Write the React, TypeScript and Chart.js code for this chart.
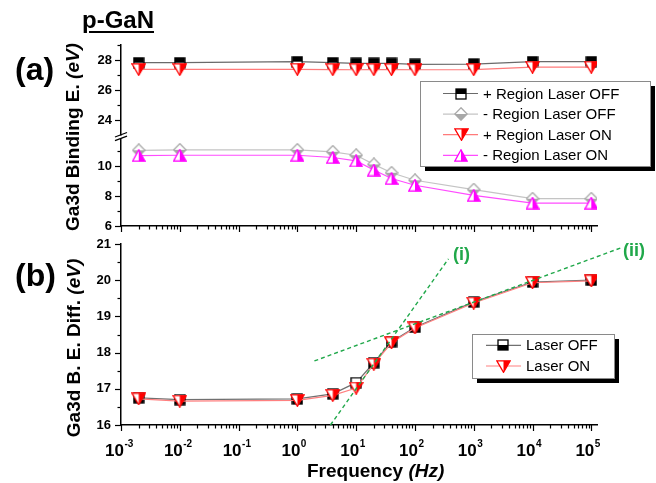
import React, { useEffect, useRef } from 'react';
import { Chart, registerables } from 'chart.js';

Chart.register(...registerables);

const FONT = '"Liberation Sans", Arial, Helvetica, sans-serif';

// ---------- data ----------
const FREQ_HZ = [0.002, 0.01, 1, 4, 10, 20, 40, 100, 1000, 10000, 100000];

const PLUS_LASER_OFF = [27.82, 27.82, 27.89, 27.82, 27.78, 27.78, 27.78, 27.71, 27.73, 27.89, 27.89];
const MINUS_LASER_OFF = [11.05, 11.08, 11.08, 10.95, 10.72, 10.11, 9.55, 9.05, 8.43, 7.82, 7.82];
const PLUS_LASER_ON = [27.37, 27.37, 27.38, 27.36, 27.35, 27.36, 27.36, 27.35, 27.36, 27.52, 27.52];
const MINUS_LASER_ON = [10.7, 10.72, 10.72, 10.57, 10.34, 9.73, 9.17, 8.72, 8.04, 7.53, 7.53];

const DIFF_LASER_OFF = [16.75, 16.7, 16.72, 16.86, 17.17, 17.72, 18.3, 18.7, 19.4, 19.95, 20.0];
const DIFF_LASER_ON = [16.72, 16.66, 16.68, 16.82, 17.02, 17.68, 18.27, 18.68, 19.37, 19.93, 19.98];

const FIT_I_X = [3.65, 372];
const FIT_I_Y = [16.0, 20.59];
const FIT_II_X = [1.95, 327000];
const FIT_II_Y = [17.77, 20.9];

const X_MIN = 0.001;
const X_MAX = 125000;
const X_DECADES = [-3, -2, -1, 0, 1, 2, 3, 4, 5];

const YA_UPPER_MIN = 23;
const YA_UPPER_MAX = 29;
const YA_UPPER_MAJOR = [24, 26, 28];
const YA_UPPER_MINOR = [25, 27, 29];
const YA_LOWER_MIN = 6;
const YA_LOWER_MAX = 12.07;
const YA_LOWER_BREAK = 11.8;
const YA_LOWER_MAJOR = [6, 8, 10];
const YA_LOWER_MINOR = [7, 9, 11];

const YB_MIN = 16;
const YB_MAX = 21;
const YB_MAJOR = [16, 17, 18, 19, 20, 21];
const YB_MINOR = [16.5, 17.5, 18.5, 19.5, 20.5];

const LEGEND_A = ['+ Region Laser OFF', '- Region Laser OFF', '+ Region Laser ON', '- Region Laser ON'];
const LEGEND_B = ['Laser OFF', 'Laser ON'];

const GREEN = '#20a84a';

const pts = (xs: number[], ys: number[]) => xs.map((x, i) => ({ x, y: ys[i] }));

// ---------- markers ----------
function makeMarker(kind: string, color: string): HTMLCanvasElement {
  const c = document.createElement('canvas');
  let w = 12, h = 12;
  if (kind === 'diamond') { w = 14; h = 14; }
  if (kind === 'triDown') { w = 15; h = 13; }
  if (kind === 'triUp') { w = 14; h = 13; }
  c.width = w; c.height = h;
  const g = c.getContext('2d')!;
  g.lineWidth = 1.3;
  g.strokeStyle = color;
  g.lineJoin = 'miter';
  const poly = (p: number[][]) => {
    g.beginPath();
    p.forEach(([x, y], i) => (i ? g.lineTo(x, y) : g.moveTo(x, y)));
    g.closePath();
  };
  if (kind === 'sqTop' || kind === 'sqBottom') {
    g.fillStyle = '#fff';
    g.fillRect(1, 1, 10, 10);
    g.fillStyle = color;
    if (kind === 'sqTop') g.fillRect(1, 1, 10, 5);
    else g.fillRect(1, 6, 10, 5);
    g.strokeRect(1, 1, 10, 10);
  } else if (kind === 'diamond') {
    const outline = [[7, 0.8], [13.2, 7], [7, 13.2], [0.8, 7]];
    poly(outline); g.fillStyle = '#fff'; g.fill();
    poly([[0.8, 7], [13.2, 7], [7, 13.2]]); g.fillStyle = color; g.fill();
    poly(outline); g.stroke();
  } else if (kind === 'triDown') {
    const outline = [[0.8, 0.8], [14.2, 0.8], [7.5, 12.3]];
    poly(outline); g.fillStyle = '#fff'; g.fill();
    poly([[7.5, 0.8], [14.2, 0.8], [7.5, 12.3]]); g.fillStyle = color; g.fill();
    poly(outline); g.stroke();
  } else {
    const outline = [[7, 0.8], [13.2, 12.2], [0.8, 12.2]];
    poly(outline); g.fillStyle = '#fff'; g.fill();
    poly([[7, 0.8], [13.2, 12.2], [7, 12.2]]); g.fillStyle = color; g.fill();
    poly(outline); g.stroke();
  }
  return c;
}

// ---------- plugins ----------
function makeLegendPlugin(cfg: any) {
  return {
    id: 'boxLegend',
    afterDatasetsDraw(chart: any) {
      const ctx = chart.ctx;
      ctx.save();
      ctx.fillStyle = '#000';
      ctx.fillRect(cfg.x + cfg.shadow, cfg.y + cfg.shadow, cfg.w, cfg.h);
      ctx.fillStyle = '#fff';
      ctx.fillRect(cfg.x, cfg.y, cfg.w, cfg.h);
      ctx.strokeStyle = '#8a8a8a';
      ctx.lineWidth = 1;
      ctx.strokeRect(cfg.x + 0.5, cfg.y + 0.5, cfg.w, cfg.h);
      const items = chart.data.datasets.filter((d: any) => d.inLegend);
      items.forEach((d: any, i: number) => {
        const cy = cfg.y + cfg.row0 + i * cfg.gap;
        ctx.strokeStyle = d.borderColor;
        ctx.lineWidth = d.borderWidth;
        ctx.beginPath();
        ctx.moveTo(cfg.lx0, cy);
        ctx.lineTo(cfg.lx1, cy);
        ctx.stroke();
        const img = d.pointStyle;
        ctx.drawImage(img, Math.round(cfg.mx - img.width / 2), Math.round(cy - img.height / 2));
        ctx.fillStyle = '#000';
        ctx.font = `${cfg.fontSize}px ${FONT}`;
        ctx.textBaseline = 'middle';
        ctx.textAlign = 'left';
        ctx.fillText(d.label, cfg.tx, cy + 1);
      });
      ctx.restore();
    },
  };
}

function makeDecorPlugin(cfg: any) {
  return {
    id: 'axisDecor',
    afterDraw(chart: any) {
      const ctx = chart.ctx;
      const area = chart.chartArea;
      const xs = chart.scales.x;
      ctx.save();
      ctx.strokeStyle = '#000';
      ctx.lineWidth = 1.2;
      const line = (x0: number, y0: number, x1: number, y1: number) => {
        ctx.beginPath(); ctx.moveTo(x0, y0); ctx.lineTo(x1, y1); ctx.stroke();
      };
      // x ticks (major + minor, log)
      for (const d of X_DECADES) {
        for (let k = 1; k <= 9; k++) {
          const v = k * Math.pow(10, d);
          if (v > xs.max * 1.0001) break;
          const px = Math.round(xs.getPixelForValue(v)) + 0.5;
          line(px, area.bottom, px, area.bottom + (k === 1 ? 6 : 3.5));
        }
      }
      // y ticks
      for (const ax of cfg.yAxes) {
        const s = chart.scales[ax.id];
        for (const v of ax.major) {
          const py = Math.round(s.getPixelForValue(v)) + 0.5;
          line(area.left - 6, py, area.left, py);
        }
        for (const v of ax.minor) {
          const py = Math.round(s.getPixelForValue(v)) + 0.5;
          line(area.left - 3.5, py, area.left, py);
        }
      }
      // axis break
      if (cfg.brk) {
        const top = chart.scales[cfg.brk.upper].getPixelForValue(cfg.brk.upperMin);
        const bot = chart.scales[cfg.brk.lower].getPixelForValue(cfg.brk.lowerMax);
        ctx.fillStyle = '#fff';
        ctx.fillRect(area.left - 3, top + 0.5, 6, bot - top - 1);
        ctx.lineWidth = 1.3;
        line(area.left - 6, top + 2, area.left + 6, top - 2.5);
        line(area.left - 6, bot + 1.5, area.left + 6, bot - 3);
      }
      // x tick labels with superscript exponents
      if (cfg.xLabels) {
        ctx.fillStyle = '#000';
        ctx.textBaseline = 'alphabetic';
        for (const d of X_DECADES) {
          const px = xs.getPixelForValue(Math.pow(10, d));
          ctx.font = `bold 17px ${FONT}`;
          ctx.textAlign = 'right';
          ctx.fillText('10', px + 3, area.bottom + 31);
          ctx.font = `bold 10px ${FONT}`;
          ctx.textAlign = 'left';
          ctx.fillText(String(d), px + 3.5, area.bottom + 22);
        }
      }
      ctx.restore();
    },
  };
}

const yTickFont = { family: FONT, size: 13, weight: 'bold' as const };
const borderStyle = { color: '#000', width: 1.5 };

function Txt(props: { x: number; base: number; size: number; children: any; style?: any }) {
  const { x, base, size, children, style } = props;
  return (
    <div
      style={{
        position: 'absolute',
        left: x,
        top: base - 0.8465 * size,
        font: `bold ${size}px ${FONT}`,
        lineHeight: `${size}px`,
        whiteSpace: 'nowrap',
        color: '#000',
        ...style,
      }}
    >
      {children}
    </div>
  );
}

function VTxt(props: { cx: number; cy: number; size: number; children: any }) {
  const { cx, cy, size, children } = props;
  return (
    <div
      style={{
        position: 'absolute',
        left: cx,
        top: cy,
        transform: 'translate(-50%, -50%) rotate(-90deg)',
        font: `bold ${size}px ${FONT}`,
        lineHeight: `${size}px`,
        whiteSpace: 'nowrap',
        color: '#000',
      }}
    >
      {children}
    </div>
  );
}

export default function App() {
  const topRef = useRef<HTMLCanvasElement>(null);
  const botRef = useRef<HTMLCanvasElement>(null);

  useEffect(() => {
    Chart.defaults.font.family = FONT;
    const mSqTop = makeMarker('sqTop', '#000');
    const mDiamond = makeMarker('diamond', '#a8a8a8');
    const mTriDownRed = makeMarker('triDown', '#ff0000');
    const mTriUpMag = makeMarker('triUp', '#ff00ff');
    const mSqBottom = makeMarker('sqBottom', '#000');
    const mTriDownRed2 = makeMarker('triDown', '#ff0000');

    const top = new Chart(topRef.current!, {
      type: 'line',
      data: {
        datasets: [
          { label: LEGEND_A[0], data: pts(FREQ_HZ, PLUS_LASER_OFF), yAxisID: 'yU', borderColor: '#6a6a6a', borderWidth: 1.2, pointStyle: mSqTop, pointRadius: 5, order: 2, inLegend: true } as any,
          { label: LEGEND_A[1], data: pts(FREQ_HZ, MINUS_LASER_OFF), yAxisID: 'yL', borderColor: '#c4c4c4', borderWidth: 1.2, pointStyle: mDiamond, pointRadius: 5, order: 2, inLegend: true } as any,
          { label: LEGEND_A[2], data: pts(FREQ_HZ, PLUS_LASER_ON), yAxisID: 'yU', borderColor: '#ff7a7a', borderWidth: 1.2, pointStyle: mTriDownRed, pointRadius: 5, order: 1, inLegend: true } as any,
          { label: LEGEND_A[3], data: pts(FREQ_HZ, MINUS_LASER_ON), yAxisID: 'yL', borderColor: '#ff4cff', borderWidth: 1.2, pointStyle: mTriUpMag, pointRadius: 5, order: 1, inLegend: true } as any,
        ],
      },
      options: {
        responsive: false,
        animation: false,
        events: [],
        layout: { padding: { top: 45, left: 0, right: 59, bottom: 0 } },
        plugins: { legend: { display: false }, tooltip: { enabled: false } },
        scales: {
          x: {
            type: 'logarithmic', min: X_MIN, max: X_MAX, position: 'bottom',
            grid: { display: false, drawTicks: false }, border: borderStyle,
            ticks: { display: false },
            afterFit: (s: any) => { s.height = 257; },
          },
          yL: {
            type: 'linear', position: 'left', stack: 'a', stackWeight: 91,
            min: YA_LOWER_MIN, max: YA_LOWER_MAX,
            grid: { display: false, drawTicks: false }, border: borderStyle,
            ticks: { font: yTickFont, color: '#000', padding: 9 },
            afterBuildTicks: (s: any) => { s.ticks = YA_LOWER_MAJOR.map((v) => ({ value: v })); },
            afterFit: (s: any) => { s.width = 121; },
          },
          yU: {
            type: 'linear', position: 'left', stack: 'a', stackWeight: 90,
            min: YA_UPPER_MIN, max: YA_UPPER_MAX,
            grid: { display: false, drawTicks: false }, border: borderStyle,
            ticks: { font: yTickFont, color: '#000', padding: 9 },
            afterBuildTicks: (s: any) => { s.ticks = YA_UPPER_MAJOR.map((v) => ({ value: v })); },
            afterFit: (s: any) => { s.width = 121; },
          },
        },
      } as any,
      plugins: [
        makeDecorPlugin({
          yAxes: [
            { id: 'yU', major: YA_UPPER_MAJOR, minor: YA_UPPER_MINOR },
            { id: 'yL', major: YA_LOWER_MAJOR, minor: YA_LOWER_MINOR },
          ],
          brk: { upper: 'yU', upperMin: YA_UPPER_MIN, lower: 'yL', lowerMax: YA_LOWER_BREAK },
          xLabels: false,
        }),
        makeLegendPlugin({ x: 420, y: 81, w: 230, h: 85, shadow: 5, row0: 12.5, gap: 20.6, lx0: 443, lx1: 478, mx: 461, tx: 483, fontSize: 15 }),
      ] as any,
    });

    const bot = new Chart(botRef.current!, {
      type: 'line',
      data: {
        datasets: [
          { label: LEGEND_B[0], data: pts(FREQ_HZ, DIFF_LASER_OFF), borderColor: '#707070', borderWidth: 1.2, pointStyle: mSqBottom, pointRadius: 5, order: 2, inLegend: true } as any,
          { label: LEGEND_B[1], data: pts(FREQ_HZ, DIFF_LASER_ON), borderColor: '#ff8080', borderWidth: 1.2, pointStyle: mTriDownRed2, pointRadius: 5, order: 1, inLegend: true } as any,
          { label: 'fit (i)', data: pts(FIT_I_X, FIT_I_Y), borderColor: GREEN, borderWidth: 1.4, borderDash: [4, 3], pointRadius: 0, clip: false, order: 0 } as any,
          { label: 'fit (ii)', data: pts(FIT_II_X, FIT_II_Y), borderColor: GREEN, borderWidth: 1.4, borderDash: [4, 3], pointRadius: 0, clip: false, order: 0 } as any,
        ],
      },
      options: {
        responsive: false,
        animation: false,
        events: [],
        layout: { padding: { top: 244, left: 0, right: 59, bottom: 0 } },
        plugins: { legend: { display: false }, tooltip: { enabled: false } },
        scales: {
          x: {
            type: 'logarithmic', min: X_MIN, max: X_MAX, position: 'bottom',
            grid: { display: false, drawTicks: false }, border: borderStyle,
            ticks: { display: false },
            afterFit: (s: any) => { s.height = 58; },
          },
          y: {
            type: 'linear', position: 'left', min: YB_MIN, max: YB_MAX,
            grid: { display: false, drawTicks: false }, border: borderStyle,
            ticks: { font: yTickFont, color: '#000', padding: 10 },
            afterBuildTicks: (s: any) => { s.ticks = YB_MAJOR.map((v) => ({ value: v })); },
            afterFit: (s: any) => { s.width = 121; },
          },
        },
      } as any,
      plugins: [
        makeDecorPlugin({
          yAxes: [{ id: 'y', major: YB_MAJOR, minor: YB_MINOR }],
          brk: null,
          xLabels: true,
        }),
        makeLegendPlugin({ x: 472, y: 334, w: 142, h: 44, shadow: 5, row0: 11.3, gap: 20.7, lx0: 486, lx1: 521, mx: 503, tx: 526, fontSize: 15 }),
      ] as any,
    });

    return () => {
      top.destroy();
      bot.destroy();
    };
  }, []);

  return (
    <div style={{ position: 'fixed', left: 0, top: 0, width: 656, height: 483, background: '#fff', overflow: 'hidden' }}>
      <canvas ref={topRef} width={656} height={483} style={{ position: 'absolute', left: 0, top: 0 }} />
      <canvas ref={botRef} width={656} height={483} style={{ position: 'absolute', left: 0, top: 0 }} />
      <Txt x={82} base={28.5} size={24} style={{ textDecoration: 'underline', textDecorationThickness: '2px', textUnderlineOffset: '3px' }}>p-GaN</Txt>
      <Txt x={15} base={80} size={32}>(a)</Txt>
      <Txt x={15} base={286} size={32}>(b)</Txt>
      <VTxt cx={71.7} cy={137} size={19}>Ga3d Binding E. <i>(eV)</i></VTxt>
      <VTxt cx={73.4} cy={347.5} size={19}>Ga3d B. E. Diff. <i>(eV)</i></VTxt>
      <Txt x={307} base={477} size={19}>Frequency <i>(Hz)</i></Txt>
      <Txt x={453} base={260} size={18} style={{ color: GREEN }}>(i)</Txt>
      <Txt x={623} base={256} size={18} style={{ color: GREEN }}>(ii)</Txt>
    </div>
  );
}
